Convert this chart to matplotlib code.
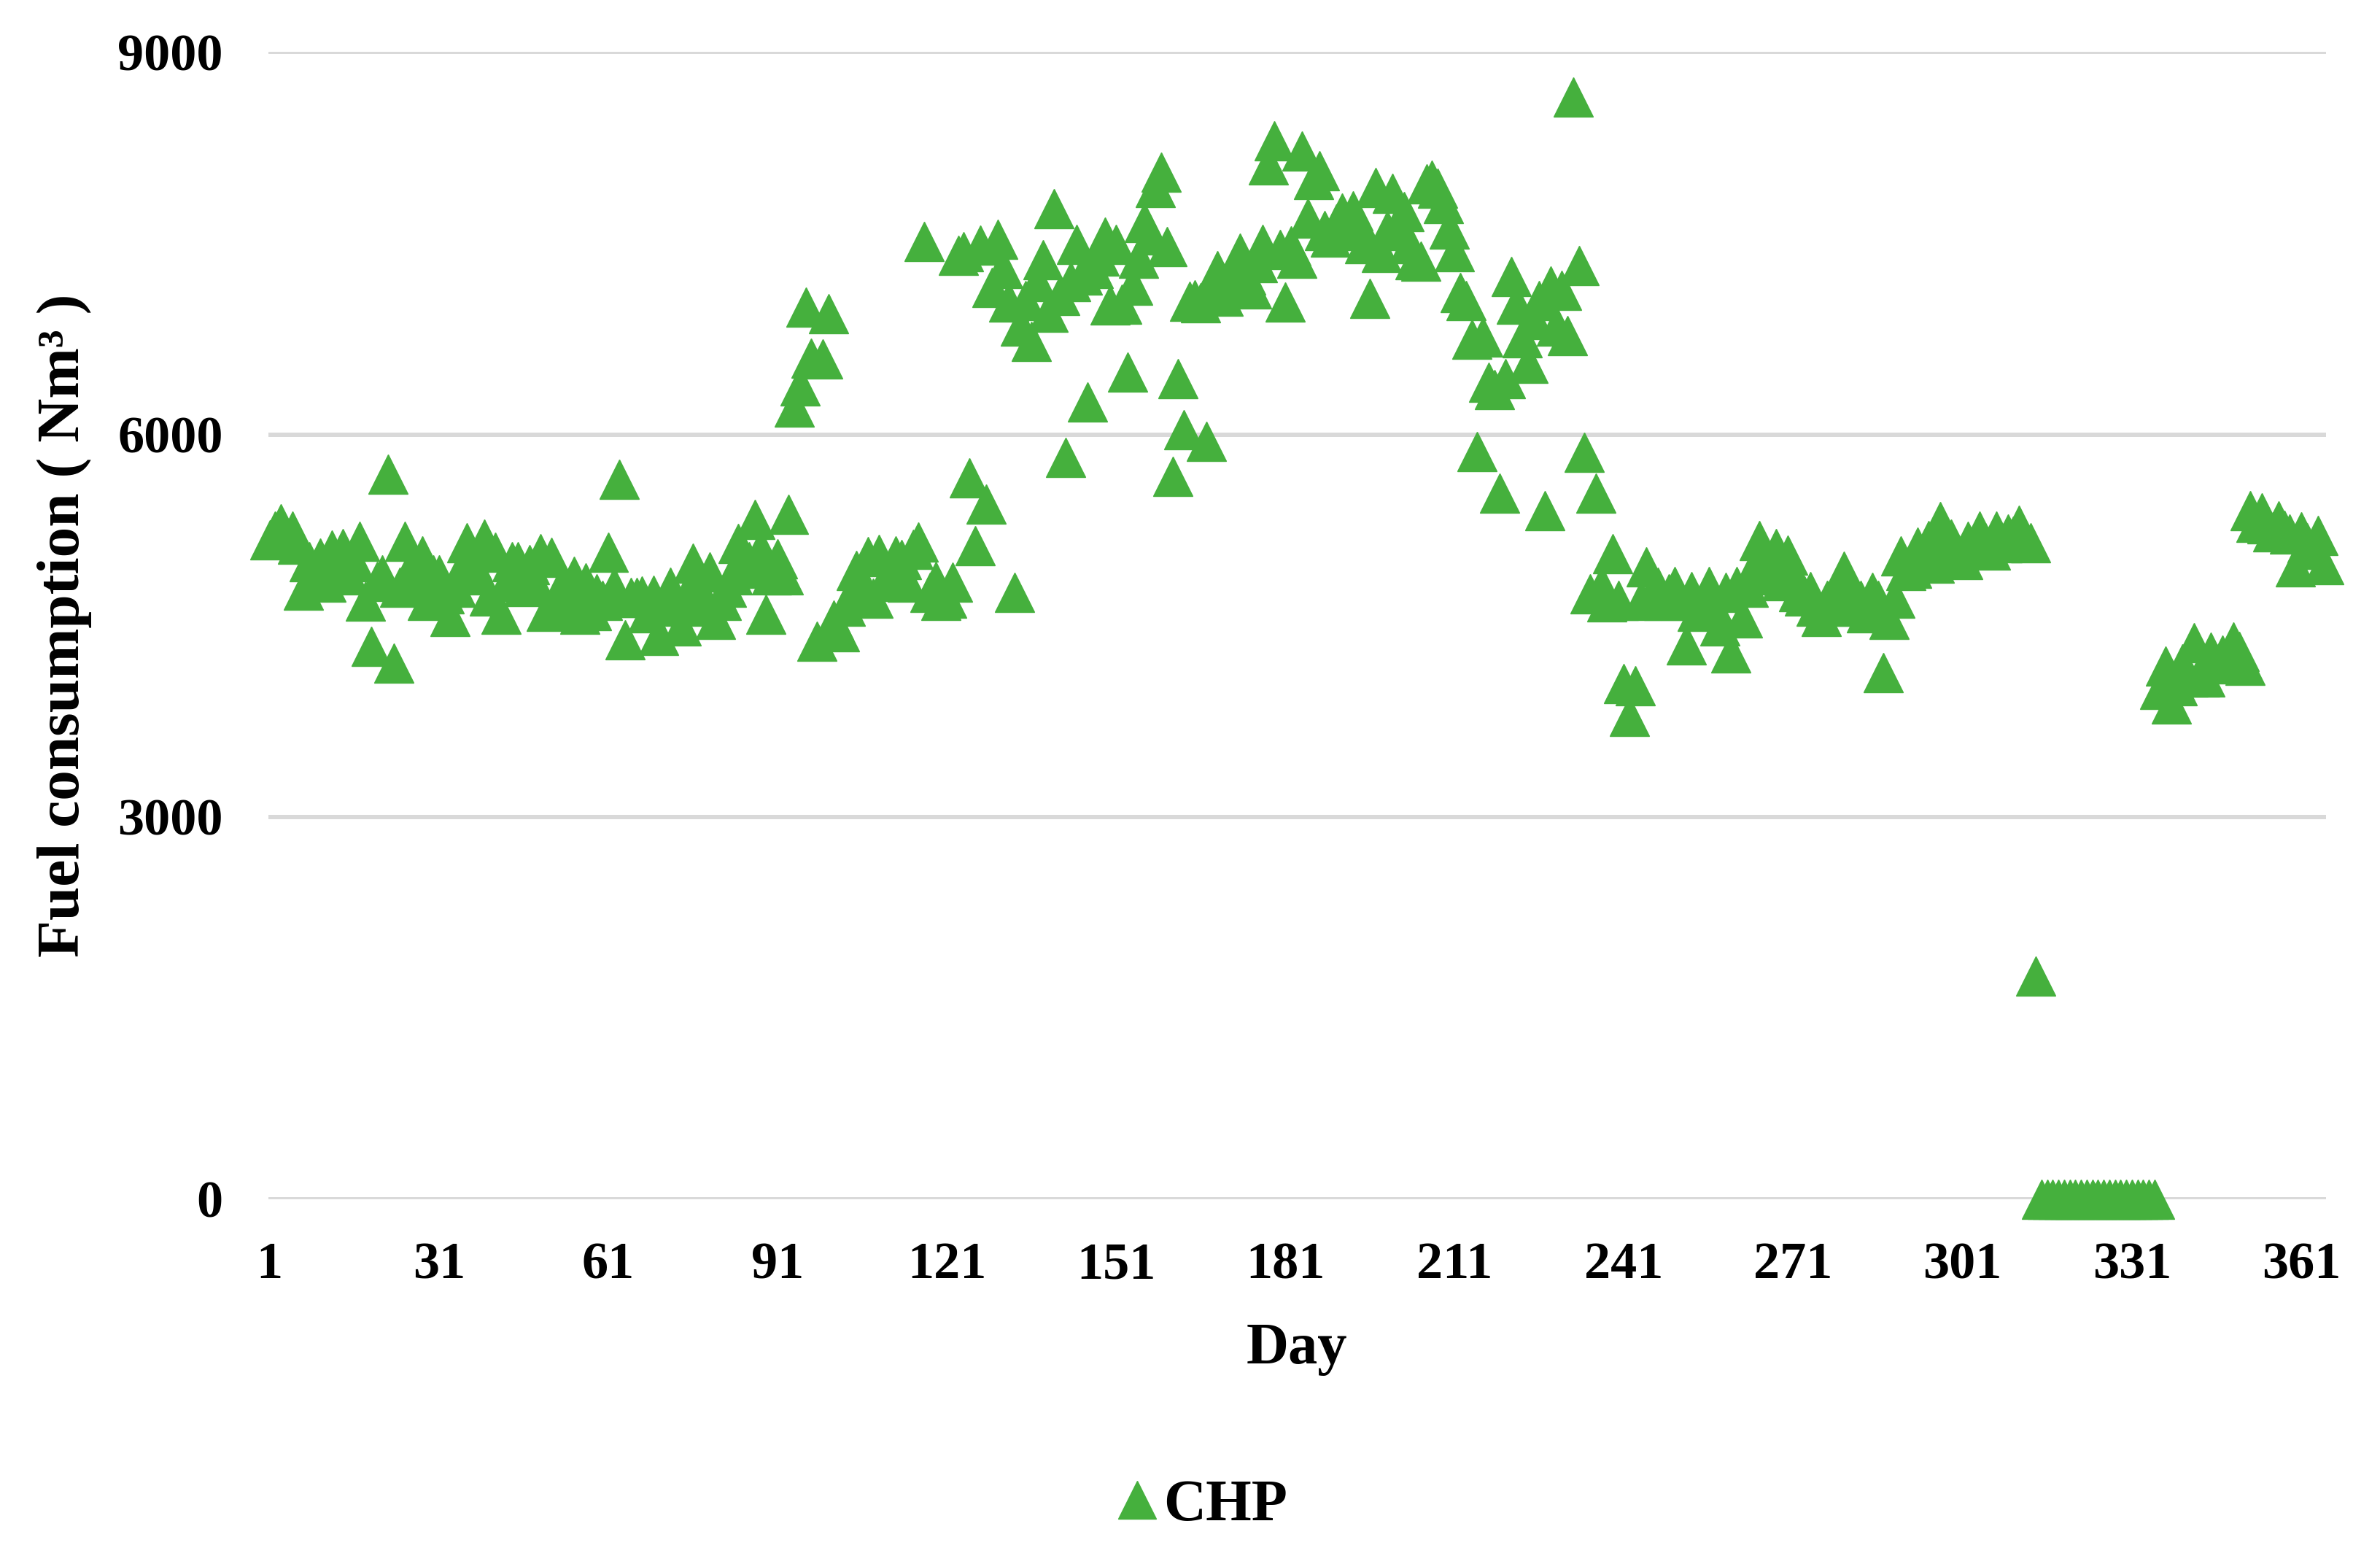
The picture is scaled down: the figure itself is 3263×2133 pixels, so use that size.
import matplotlib
matplotlib.use("Agg")
import matplotlib.pyplot as plt
import numpy as np
from matplotlib.lines import Line2D

# Daily CHP fuel consumption (Nm3), day 1..365
chp_1_100 = [
    5176, 5240, 5298, 5200, 5240, 5140, 4781, 5004, 4900, 5033,
    4844, 5096, 4950, 5107, 4900, 5000, 5160, 4695, 4340, 4850,
    4900, 5690, 4209, 4800, 5160, 4950, 4827, 5050, 4700, 4900,
    4896, 4750, 4570, 4800, 4950, 5153, 5000, 4900, 5182, 4730,
    5078, 4592, 4850, 5004, 5000, 4810, 4981, 4850, 5067, 4615,
    5038, 4621, 4838, 4700, 4890, 4592, 4838, 4621, 4750, 4700,
    5078, 4800, 5651, 4392, 4724, 4724, 4735, 4600, 4741, 4426,
    4650, 4804, 4700, 4501, 4750, 4993, 4800, 4650, 4924, 4552,
    4700, 4800, 4900, 5147, 4950, 5000, 5336, 5100, 4592, 4900,
    5027, 4901, 5376, 6217, 6383, 7000, 6600, 4380, 6595, 6950,
]
chp_101_200 = [
    4546, 4450, 4650, 4750, 4935, 4800, 5040, 4713, 5057, 4850,
    4950, 5050, 5017, 4844, 5100, 5159, 7517, 4762, 4850, 4700,
    4713, 4844, 7403, 7436, 5659, 5126, 7484, 5456, 7156, 7533,
    7300, 7041, 4764, 6852, 7050, 6728, 7200, 7370, 6958, 7770,
    7090, 5822, 7200, 7494, 7250, 6257, 7300, 7400, 7550, 7014,
    7491, 7024, 6488, 7170, 7385, 7666, 7564, 7940, 8056, 7476,
    5673, 6437, 6037, 7044, 7058, 7036, 5947, 7100, 7288, 7087,
    7200, 7300, 7421, 7250, 7144, 7350, 7493, 8113, 8306, 7450,
    7039, 7480, 7385, 8222, 7700, 8000, 8068, 7600, 7550, 7650,
    7736, 7600, 7756, 7650, 7500, 7070, 7936, 7430, 7600, 7890,
]
chp_201_300 = [
    7605, 7750, 7500, 7370, 7360, 7968, 7997, 7934, 7810, 7609,
    7433, 7112, 7050, 6746, 5868, 6766, 6412, 6350, 5540, 6441,
    7240, 7021, 6761, 6556, 6900, 7050, 5402, 7167, 6850, 7130,
    6775, 8647, 7324, 5862, 4750, 5542, 4813, 4685, 5067, 4700,
    4045, 3786, 4030, 4700, 4964, 4750, 4800, 4700, 4750, 4810,
    4700, 4350, 4770, 4610, 4700, 4810, 4650, 4500, 4760, 4285,
    4810, 4560, 4800, 4950, 5165, 5000, 4900, 5105, 4855, 5055,
    4900, 4770, 4730, 4770, 4650, 4570, 4700, 4650, 4800, 4930,
    4700, 4650, 4700, 4600, 4760, 4700, 4130, 4550, 4715, 5045,
    4935, 4950, 5115, 5000, 5170, 4990, 5315, 5100, 5180, 5050,
]
chp_301_365 = [
    5020, 5160, 5100, 5245, 5150, 5095, 5240, 5150, 5220, 5200,
    5290, 5160, 5150, 1750, 0, 0, 0, 0, 0, 0,
    0, 0, 0, 0, 0, 0, 0, 0, 0, 0,
    0, 0, 0, 0, 0, 4000, 4184, 3886, 4030, 4200,
    4100, 4364, 4100, 4100, 4290, 4200, 4270, 4250, 4375, 4300,
    4190, 5400, 5310, 5385, 5300, 5235, 5325, 5250, 5220, 4960,
    5235, 5150, 5100, 5210, 4980,
]
chp = np.array(chp_1_100 + chp_101_200 + chp_201_300 + chp_301_365, dtype=float)
days = np.arange(1, len(chp) + 1)

x_ticks = list(range(1, 362, 30))
y_ticks = [0, 3000, 6000, 9000]

green = '#45B03D'
font = 'Liberation Serif'

fig = plt.figure(figsize=(32.63, 21.33), dpi=100)
ax = fig.add_axes([0.1128, 0.2293, 0.8645, 0.7372])

ax.plot(days, chp, linestyle='none', marker='^', markersize=39,
        color=green, markeredgecolor=green, markeredgewidth=1,
        clip_on=False, zorder=3)

ax.set_xlim(0.8, 365.4)
ax.set_ylim(0, 9000)
ax.set_xticks(x_ticks)
ax.set_yticks(y_ticks)
ax.set_xticklabels([str(t) for t in x_ticks])
ax.set_yticklabels([str(t) for t in y_ticks])

ax.grid(axis='y', color='#D9D9D9', linewidth=4.3, zorder=0)
ax.set_axisbelow(True)
for s in ax.spines.values():
    s.set_visible(False)
ax.tick_params(axis='both', length=0, labelsize=52)
ax.tick_params(axis='y', pad=45)
ax.tick_params(axis='x', pad=42)
for lab in ax.get_xticklabels() + ax.get_yticklabels():
    lab.set_fontfamily(font)
    lab.set_fontweight('bold')

fig.text(0.5449, 0.1327, 'Day', fontsize=58, fontweight='bold',
         family=font, ha='center', va='center')
fig.text(0.027, 0.598, 'Fuel consumption ( Nm\u00b3 )', fontsize=60,
         fontweight='bold', family=font, rotation=90,
         ha='center', va='center')

handle = Line2D([], [], linestyle='none', marker='^', markersize=38,
                color=green)
fig.legend([handle], ['CHP'], loc='center', bbox_to_anchor=(0.505, 0.032),
           frameon=False, handlelength=0.7, handletextpad=0.1,
           prop={'family': font, 'weight': 'bold', 'size': 58})

fig.savefig('out.png', dpi=100)
